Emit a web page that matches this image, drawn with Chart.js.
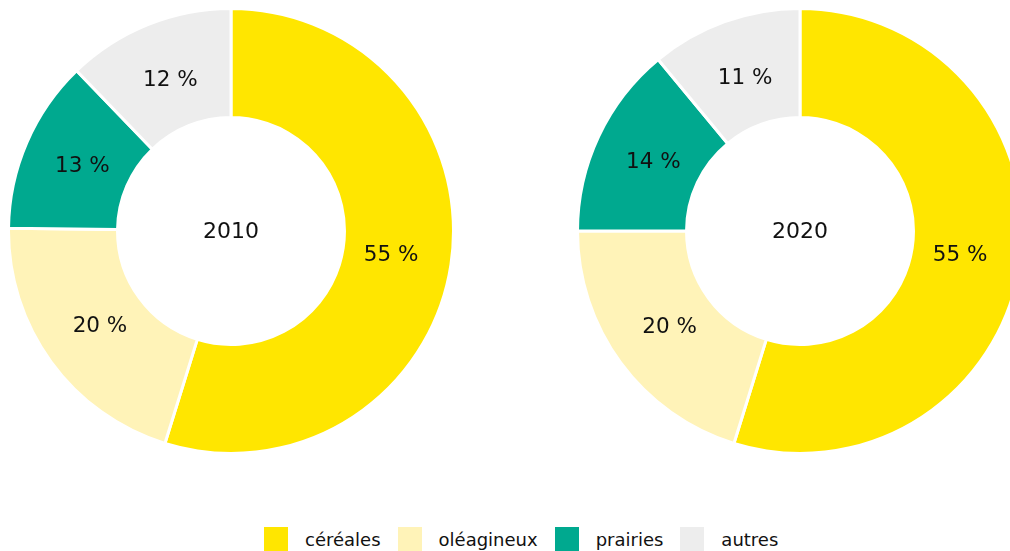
<!DOCTYPE html>
<html>
  <head>
    <meta charset="utf-8">
    <title>Assolement 2010 / 2020</title>
    <script src="https://cdn.jsdelivr.net/npm/chart.js"></script>
    <style>
      html, body {
        margin: 0;
        width: 1010px;
        height: 551px;
        overflow: hidden;
        background: #fff;
        font-family: "DejaVu Sans", sans-serif;
      }
      .donut {
        position: absolute;
        top: 7px;
        width: 448px;
        height: 448px;
      }
      #legend {
        position: absolute;
        left: 264px;
        top: 527px;
        display: flex;
        align-items: center;
        font-size: 18px;
        color: #111;
      }
      #legend .box {
        width: 24px;
        height: 24px;
        margin-right: 17px;
      }
      #legend .lbl {
        margin-right: 17px;
      }
    </style>
  </head>
  <body>
    <div class="donut" style="left: 7px;"><canvas id="chart-2010"></canvas></div>
    <div class="donut" style="left: 576px;"><canvas id="chart-2020"></canvas></div>
    <div id="legend"></div>

    <script>
      const categories = ['céréales', 'oléagineux', 'prairies', 'autres'];
      const colors = ['#FFE600', '#FFF3B8', '#00A98F', '#EDEDED'];
      const years = ['2010', '2020'];
      const values2010 = [54.8, 20.4, 12.6, 12.2];
      const values2020 = [54.8, 20.2, 14.0, 11.0];

      // draws "xx %" on each slice and the year in the hole
      const labelPlugin = {
        id: 'sliceLabels',
        afterDatasetsDraw(chart, args, opts) {
          const ctx = chart.ctx;
          const meta = chart.getDatasetMeta(0);
          ctx.save();
          ctx.fillStyle = '#111';
          ctx.textAlign = 'center';
          ctx.textBaseline = 'middle';
          ctx.font = '21.5px "DejaVu Sans"';
          meta.data.forEach((arc, i) => {
            const mid = (arc.startAngle + arc.endAngle) / 2;
            const r = (arc.innerRadius + arc.outerRadius) / 2 - 6;
            const x = arc.x + Math.cos(mid) * r;
            const y = arc.y + Math.sin(mid) * r;
            const v = chart.data.datasets[0].data[i];
            ctx.fillText(Math.round(v) + ' %', x, y);
          });
          const c = meta.data[0];
          ctx.font = '22px "DejaVu Sans"';
          ctx.fillText(opts.year, c.x, c.y + 1);
          ctx.restore();
        }
      };

      function makeDonut(id, year, values) {
        new Chart(document.getElementById(id), {
          type: 'doughnut',
          data: {
            labels: categories,
            datasets: [{
              data: values,
              backgroundColor: colors,
              borderColor: '#fff',
              borderWidth: 3
            }]
          },
          options: {
            responsive: true,
            maintainAspectRatio: false,
            animation: false,
            cutout: '51%',
            layout: { padding: 0 },
            plugins: {
              legend: { display: false },
              tooltip: { enabled: false },
              sliceLabels: { year: year }
            }
          },
          plugins: [labelPlugin]
        });
      }

      makeDonut('chart-2010', years[0], values2010);
      makeDonut('chart-2020', years[1], values2020);

      const legend = document.getElementById('legend');
      categories.forEach((name, i) => {
        const box = document.createElement('div');
        box.className = 'box';
        box.style.background = colors[i];
        const lbl = document.createElement('span');
        lbl.className = 'lbl';
        lbl.textContent = name;
        legend.appendChild(box);
        legend.appendChild(lbl);
      });
    </script>
  </body>
</html>
